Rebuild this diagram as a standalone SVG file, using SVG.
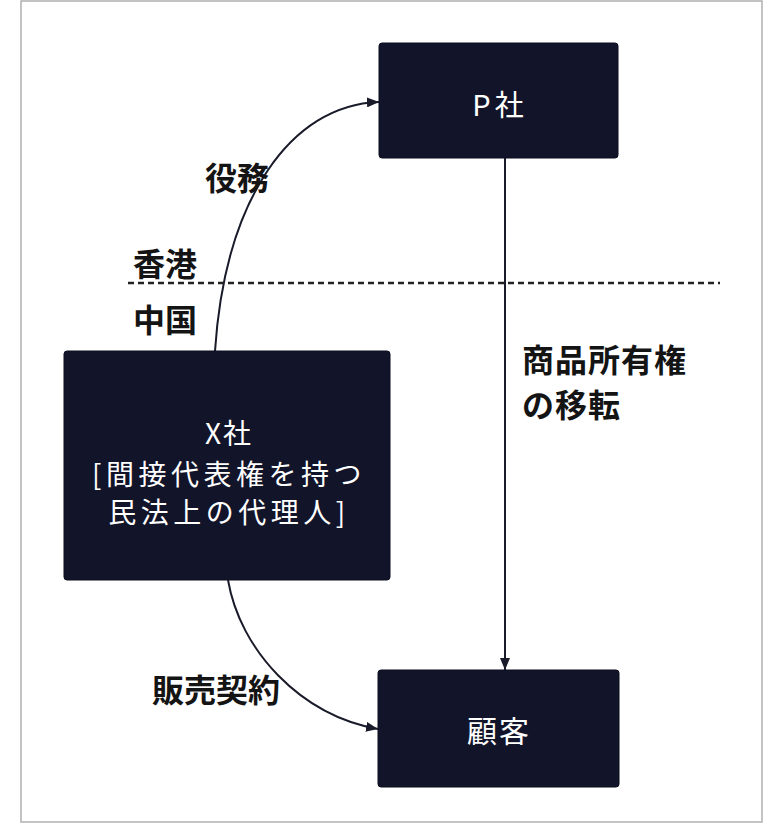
<svg xmlns="http://www.w3.org/2000/svg" width="764" height="827" viewBox="0 0 764 827">
<style>
.box{fill:#12142a;stroke:#0b0c1c;stroke-width:1}
.nt{font-family:"Noto Sans CJK JP","Noto Sans",sans-serif;fill:#ffffff;text-anchor:middle;dominant-baseline:central}
.lb{font-family:"Noto Sans CJK JP","Noto Sans",sans-serif;font-weight:bold;fill:#141414;font-size:32px;dominant-baseline:central}
.ln{fill:none;stroke:#1a1b2a;stroke-width:2}
</style>
<defs>
<marker id="ah" viewBox="0 0 12 10" refX="12" refY="5" markerWidth="12" markerHeight="10" markerUnits="userSpaceOnUse" orient="auto">
<path d="M0,0 L12,5 L0,10 Z" fill="#1a1b2a"/>
</marker>
</defs>
<rect x="0" y="0" width="764" height="827" fill="#ffffff"/>
<rect x="21" y="1" width="741" height="821" fill="none" stroke="#b0b0b0" stroke-width="1.5"/>
<g id="connectors">
<path class="ln" d="M215,351 C225,200 290,105 379,102" marker-end="url(#ah)"/>
<path class="ln" d="M228,580 C240,650 300,715 378,729" marker-end="url(#ah)"/>
<path class="ln" d="M505,158 L505,670" marker-end="url(#ah)"/>
<line x1="128" y1="283" x2="720" y2="283" stroke="#222" stroke-width="2.4" stroke-dasharray="6 4"/>
</g>
<g id="labels">
<text class="lb" x="205" y="176">役務</text>
<text class="lb" x="133" y="262">香港</text>
<text class="lb" x="133" y="318">中国</text>
<text class="lb" x="152" y="688">販売契約</text>
<text class="lb" x="522" y="358" letter-spacing="1">商品所有権</text>
<text class="lb" x="522" y="403" letter-spacing="1">の移転</text>
</g>
<g id="node-p">
<rect class="box" x="379" y="43" width="239" height="115" rx="3"/>
<text class="nt" x="500" y="103" font-size="29" letter-spacing="4">P社</text>
</g>
<g id="node-x">
<rect class="box" x="64" y="351" width="326" height="229" rx="3"/>
<text class="nt" x="229" y="432" font-size="28" letter-spacing="2">X社</text>
<text class="nt" x="229" y="473" font-size="28" letter-spacing="4.5">[間接代表権を持つ</text>
<text class="nt" x="229" y="511" font-size="28" letter-spacing="4.5">民法上の代理人]</text>
</g>
<g id="node-customer">
<rect class="box" x="378" y="670" width="241" height="117" rx="3"/>
<text class="nt" x="499" y="729" font-size="30" letter-spacing="2">顧客</text>
</g>
</svg>
